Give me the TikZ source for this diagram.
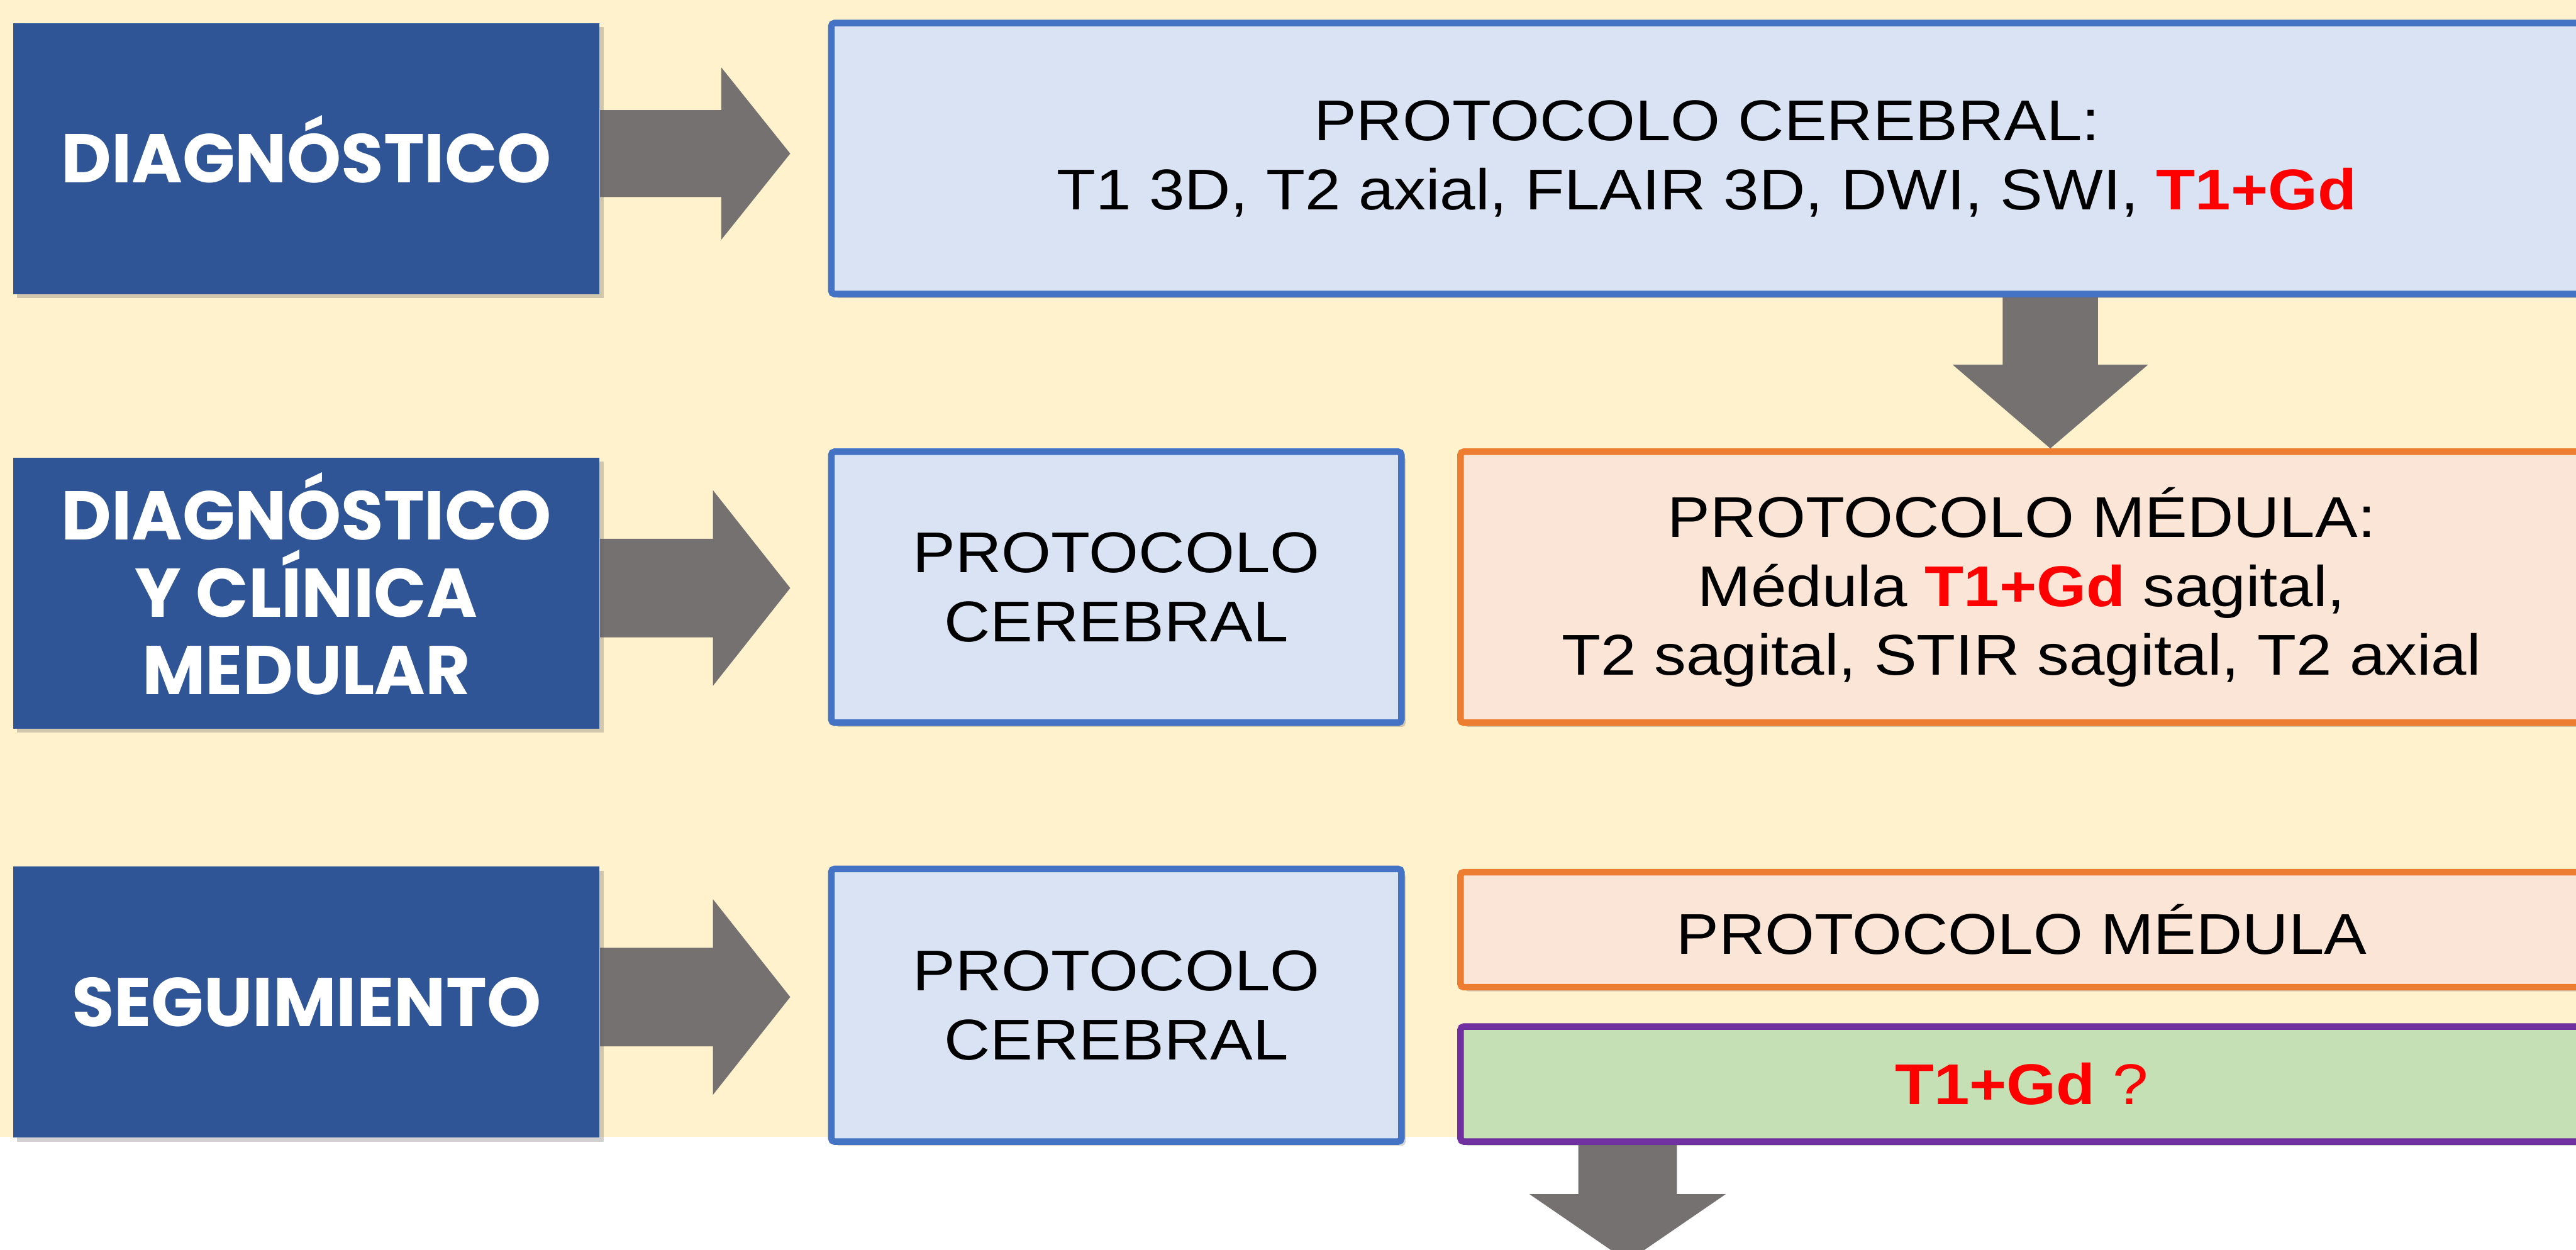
\documentclass[tikz,border=0pt]{standalone}
\usepackage{fontspec}
\setmainfont{Liberation Sans}[FakeStretch=1.11]
\newfontfamily\gothic{Poppins}
\usetikzlibrary{shadows,calc}

\definecolor{cream}{HTML}{FFF2CC}
\definecolor{navy}{HTML}{2F5597}
\definecolor{arrowgray}{HTML}{767171}
\definecolor{paleblue}{HTML}{DAE3F3}
\definecolor{blueline}{HTML}{4472C4}
\definecolor{orangeline}{HTML}{ED7D31}
\definecolor{paleorange}{HTML}{FBE5D6}
\definecolor{palegreen}{HTML}{C5E0B4}
\definecolor{purpleline}{HTML}{7030A0}
\definecolor{gdred}{HTML}{FF0000}

\pgfdeclarelayer{bg}
\pgfdeclarelayer{arrowlayer}
\pgfsetlayers{bg,arrowlayer,main}

\tikzset{
  softshadow/.style={drop shadow={shadow xshift=2.5pt, shadow yshift=-2.5pt, opacity=0.3, fill=black!60}},
  stage/.style={fill=navy, text=white, font=\gothic\bfseries\fontsize{42}{47}\selectfont,
    align=center, minimum width=357pt, minimum height=165pt, inner sep=0pt,
    text height=29.5pt, text depth=0pt, softshadow},
  protobox/.style={draw=blueline, fill=paleblue, line width=4pt, rounded corners=2pt,
    align=center, font=\fontsize{35}{42}\selectfont, inner sep=0pt, softshadow},
  medbox/.style={protobox, draw=orangeline, fill=paleorange},
  gdbox/.style={protobox, draw=purpleline, fill=palegreen},
  blockfill/.style={fill=arrowgray}
}

% horizontal block arrow: #1 source, #2 target, #3 shaft half height,
% #4 head half height, #5 head start measured back from the target
\newcommand\rightblockarrow[5]{%
  \fill[blockfill] let \p1=(#1.east), \p2=(#2.west) in
    (\x1,\y1+3pt-#3) -- (\x2-#5,\y1+3pt-#3) -- (\x2-#5,\y1+3pt-#4)
    -- (\x2-23pt,\y1+3pt) -- (\x2-#5,\y1+3pt+#4) -- (\x2-#5,\y1+3pt+#3)
    -- (\x1,\y1+3pt+#3) -- cycle;}

\newcommand\gdmark{\textcolor{gdred}{\bfseries T1+Gd}}

\begin{document}
\begin{tikzpicture}[x=1pt, y=-1pt]
  \useasboundingbox (0,0) rectangle (1568,761);
  \clip (0,0) rectangle (1568,761);

  \begin{pgfonlayer}{bg}
    \fill[cream] (0,0) rectangle (1568,692);
  \end{pgfonlayer}

  % stages
  \node[stage] (s1) at (186.5,96.5) {DIAGNÓSTICO};
  \node[stage, text height=123.5pt] (s2) at (186.5,361) {DIAGNÓSTICO\\Y CLÍNICA\\MEDULAR};
  \node[stage] (s3) at (186.5,610) {SEGUIMIENTO};

  % protocols
  \node[protobox, minimum width=1066pt, minimum height=165pt] (p1) at (1039,96.5)
    {PROTOCOLO CEREBRAL:\\T1 3D, T2 axial, FLAIR 3D, DWI, SWI, \gdmark};
  \node[protobox, minimum width=347pt, minimum height=165pt] (p2) at (679.5,357.5)
    {PROTOCOLO\\CEREBRAL};
  \node[medbox, minimum width=683pt, minimum height=165pt] (m2) at (1230.5,357.5)
    {PROTOCOLO MÉDULA:\\Médula \gdmark{} sagital,\\T2 sagital, STIR sagital, T2 axial};
  \node[protobox, minimum width=347pt, minimum height=166pt] (p3) at (679.5,612)
    {PROTOCOLO\\CEREBRAL};
  \node[medbox, minimum width=683pt, minimum height=70pt] (m3) at (1230.5,566)
    {PROTOCOLO MÉDULA};
  \node[gdbox, minimum width=683pt, minimum height=70pt] (g3) at (1230.5,660)
    {\gdmark\hspace{0.3em}\textcolor{gdred}{?}};

  \coordinate (col1) at (1248,0);
  \coordinate (col2) at (990.7,0);
  \coordinate (tipend) at (990.7,768);

  \begin{pgfonlayer}{arrowlayer}
    \rightblockarrow{s1}{p1}{26.5pt}{52.5pt}{65pt}
    \rightblockarrow{s2}{p2}{30pt}{59.5pt}{70pt}
    \rightblockarrow{s3}{p3}{30pt}{59.5pt}{70pt}
    % from the brain protocol down to the spine protocol
    \fill[blockfill] let \p1=(col1 |- p1.south), \p2=(col1 |- m2.north) in
      (\x1-29pt,\y1+4pt) -- (\x1-29pt,\y1-41pt) -- (\x1-59.5pt,\y1-41pt)
      -- (\x2,\y2) -- (\x1+59.5pt,\y1-41pt) -- (\x1+29pt,\y1-41pt)
      -- (\x1+29pt,\y1+4pt) -- cycle;
    % out of the follow-up contrast box
    \fill[blockfill] let \p1=(col2 |- g3.south), \p2=(tipend) in
      (\x1-30pt,\y1+4pt) -- (\x1-30pt,\y1-30pt) -- (\x1-59.75pt,\y1-30pt)
      -- (\x2,\y2) -- (\x1+59.75pt,\y1-30pt) -- (\x1+30pt,\y1-30pt)
      -- (\x1+30pt,\y1+4pt) -- cycle;
  \end{pgfonlayer}
\end{tikzpicture}
\end{document}
